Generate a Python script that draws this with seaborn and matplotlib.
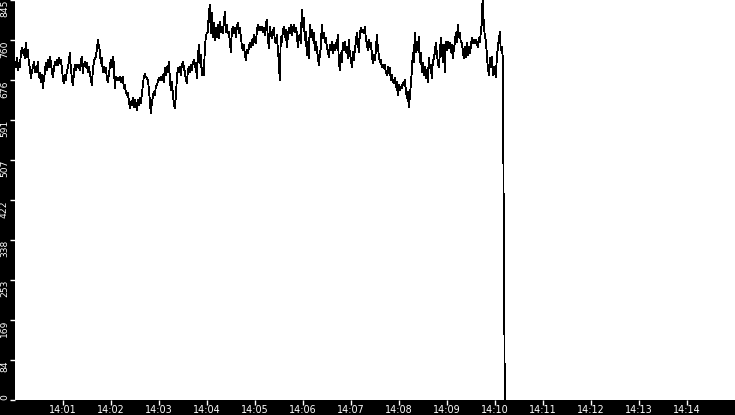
import pandas as pd
import matplotlib
matplotlib.use("Agg")
import matplotlib.pyplot as plt
import matplotlib.dates as mdates
import seaborn as sns

# ====================
# DATOS (una muestra cada ~1.25 s)
# ====================
start_time = "2024-01-01 14:00:01"
sample_ms = 1250

values = [
    # 14:00:01 - 14:01:45
    703, 722, 697, 712, 703, 729, 744, 733, 739, 722, 754, 725, 739, 714, 703, 680, 691, 703, 714, 693,
    703, 693, 714, 682, 691, 672, 687, 659, 676, 691, 712, 697, 718, 703, 725, 714, 697, 682, 697, 714,
    708, 718, 708, 722, 712, 718, 703, 680, 670, 687, 676, 693, 703, 712, 733, 703, 680, 665, 687, 708,
    697, 708, 703, 708, 697, 714, 725, 691, 708, 714, 703, 712, 693, 703, 691, 680, 665, 693, 714, 722,
    725, 739, 760, 750,
    # bajada hacia 14:03
    739, 712, 722, 693, 703, 693, 701, 682, 672, 687, 701, 718, 703, 725, 712, 659, 682, 676, 680, 676,
    682, 672, 680, 682, 659, 665, 651, 644, 649, 634, 617, 630, 623, 638, 619, 634, 627, 613, 634, 623,
    638, 627, 644, 665, 682, 689, 682, 680, 676, 659, 634, 606, 627, 640, 651, 644, 661, 665, 672, 680,
    676, 682, 676, 687, 672, 701, 687, 703, 693, 714, 682, 655, 672, 649, 627, 617, 640, 676, 701, 693,
    703, 687, 708, 714, 703, 693,
    # subida en 14:04
    676, 670, 693, 703, 693, 708, 697, 712, 718, 703, 712, 680, 722, 750, 712, 729, 687, 701, 687, 739,
    767, 775, 777, 818, 834, 775, 818, 767, 796, 760, 786, 767, 792, 765, 799, 777, 788, 775, 796, 820,
    777, 792, 775, 777, 760, 735, 777, 788, 775, 786, 767, 788, 796, 775, 786, 767, 750, 739, 750, 733,
    718, 739, 733, 744, 754, 746, 760, 750, 771, 760, 754, 777, 792, 782, 788, 782, 788, 777, 786, 771,
    796, 803, 767, 744, 788, 775,
    # 14:05:50 - 14:07:35
    765, 775, 786, 760, 754, 771, 744, 714, 676, 767, 756, 777, 788, 767, 782, 746, 767, 786, 775, 792,
    771, 782, 792, 777, 786, 775, 746, 767, 771, 754, 824, 788, 807, 760, 777, 729, 756, 722, 792, 767,
    782, 760, 775, 739, 756, 744, 725, 708, 729, 744, 792, 765, 775, 756, 765, 746, 735, 725, 750, 739,
    756, 733, 750, 739, 754, 744, 771, 718, 697, 733, 714, 754, 739, 756, 735, 746, 722, 760, 733, 722,
    703, 735, 718, 739, 754, 775,
    # caída hacia 14:08
    760, 735, 771, 786, 777, 782, 775, 788, 765, 754, 739, 760, 746, 754, 733, 712, 729, 718, 735, 771,
    746, 729, 714, 718, 703, 708, 701, 708, 693, 687, 703, 691, 701, 676, 687, 672, 670, 680, 661, 672,
    644, 665, 655, 661, 659, 670, 665, 676, 655, 638, 651, 619, 640, 665, 693, 733, 714, 775, 735, 756,
    739, 767, 714, 733, 693, 712, 687, 703, 680, 697, 672, 722, 701, 708, 680, 714, 722, 733, 754, 735,
    714, 703, 729, 765, 746, 714,
    # 14:08:35 - 14:10:05
    750, 693, 756, 739, 756, 744, 754, 735, 750, 722, 739, 754, 775, 756, 792, 767, 775, 756, 754, 739,
    722, 746, 725, 754, 729, 746, 733, 744, 765, 754, 760, 754, 760, 756, 746, 765, 756, 775, 796, 862,
    788, 771, 760, 733, 703, 687, 722, 703, 725, 687, 703, 697, 682, 722, 744, 760, 777, 739, 746, 722,
    # corte de señal
    355, 0,
]

ytick_values = [0, 84.5, 169, 253.5, 338, 422.5, 507, 591.5, 676, 760.5, 845]
ytick_labels = ["0", "84", "169", "253", "338", "422", "507", "591", "676", "760", "845"]
xtick_labels = ["14:01", "14:02", "14:03", "14:04", "14:05", "14:06", "14:07",
                "14:08", "14:09", "14:10", "14:11", "14:12", "14:13", "14:14"]

times = pd.date_range(start=start_time, periods=len(values), freq=f"{sample_ms}ms")
df = pd.DataFrame({"Hora": times, "Valor": values})

# ====================
# ESTILO
# ====================
sns.set_theme(style="white")
plt.rcParams["font.family"] = ["DejaVu Sans"]

fig = plt.figure(figsize=(7.35, 4.15), dpi=100, facecolor="black")
ax = fig.add_axes([15 / 735, 15 / 415, 720 / 735, 400 / 415])
ax.set_facecolor("white")

sns.lineplot(data=df, x="Hora", y="Valor", ax=ax, color="black", linewidth=0.6,
             estimator=None, antialiased=False)

ax.set_xlim(pd.Timestamp("2024-01-01 14:00"), pd.Timestamp("2024-01-01 14:15"))
ax.set_ylim(0, 845)
ax.set_xlabel("")
ax.set_ylabel("")

for s in ax.spines.values():
    s.set_visible(False)

xticks = [pd.Timestamp(f"2024-01-01 {t}") for t in xtick_labels]
ax.set_xticks(xticks)
ax.xaxis.set_major_formatter(mdates.DateFormatter("%H:%M"))
ax.set_yticks(ytick_values)
ax.set_yticklabels(ytick_labels)

ax.tick_params(axis="x", colors="white", length=3.8, width=1, pad=0, labelsize=6.9, direction="out")
ax.tick_params(axis="y", colors="white", length=3.6, width=1, pad=0.8, labelsize=6.6, direction="out")
ax.tick_params(left=True, bottom=True)

# etiquetas del eje y giradas, colgando bajo su marca (la de 0 por encima)
for i, lab in enumerate(ax.get_yticklabels()):
    lab.set_rotation(90)
    lab.set_va("bottom" if i == 0 else "top")
    lab.set_ha("right")

fig.savefig("out.png", dpi=100, facecolor="black")
